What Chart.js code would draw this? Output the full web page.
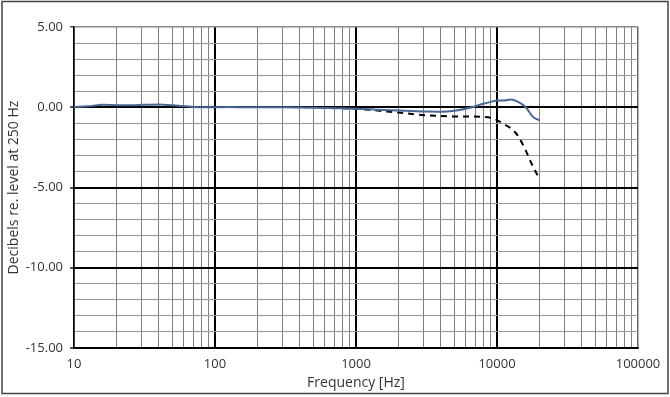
<!DOCTYPE html>
<html>
<head>
<meta charset="utf-8">
<script src="https://cdn.jsdelivr.net/npm/chart.js@4/dist/chart.umd.min.js"></script>
<style>
  html, body { margin: 0; padding: 0; background: #fff; }
  #wrap { width: 670px; height: 397px; position: relative; }
</style>
</head>
<body>
<div id="wrap"><canvas id="c" width="670" height="397"></canvas></div>
<script>
// ---- Data ----
const solidFreq = [10, 12.5, 16, 20, 25, 31.5, 40, 50, 63, 80, 100, 125, 160, 200, 250, 315, 400, 500, 630, 800, 1000, 1250, 1600, 2000, 2500, 3150, 4000, 5000, 6300, 8000, 9000, 10000, 11200, 12500, 14000, 16000, 18000, 20000];
const solidDb   = [0.02, 0.06, 0.15, 0.13, 0.12, 0.15, 0.17, 0.12, 0.06, 0.0, 0.0, 0.01, 0.0, 0.0, 0.0, 0.0, -0.02, -0.03, -0.05, -0.07, -0.1, -0.13, -0.17, -0.2, -0.24, -0.27, -0.28, -0.22, -0.05, 0.22, 0.33, 0.42, 0.42, 0.48, 0.35, 0.0, -0.6, -0.82];

const dashFreq = [800, 1000, 1250, 1600, 2000, 2500, 3150, 4000, 5000, 6300, 8000, 9000, 10000, 11200, 12500, 14000, 16000, 18000, 20000];
const dashDb   = [-0.07, -0.1, -0.16, -0.25, -0.33, -0.42, -0.5, -0.55, -0.57, -0.57, -0.6, -0.65, -0.8, -1.05, -1.3, -1.75, -2.7, -3.7, -4.45];

const xTickLabels = ['10', '100', '1000', '10000', '100000'];
const yTickLabels = ['5.00', '0.00', '-5.00', '-10.00', '-15.00'];
const decades = [10, 100, 1000, 10000];

const xTitle = 'Frequency [Hz]';
const yTitle = 'Decibels re. level at 250 Hz';

// gridline positions on log axis (1..9 x each decade)
const xGridValues = [];
decades.forEach(d => { for (let m = 1; m <= 9; m++) xGridValues.push(d * m); });
xGridValues.push(100000);

const toPts = (xs, ys) => xs.map((x, i) => ({ x: x, y: ys[i] }));

const frame = {
  id: 'frame',
  beforeDraw(chart) {
    const ctx = chart.ctx;
    ctx.save();
    ctx.fillStyle = '#fff';
    ctx.fillRect(0, 0, chart.width, chart.height);
    ctx.restore();
  },
  afterDraw(chart) {
    const ctx = chart.ctx;
    ctx.save();
    ctx.strokeStyle = '#444';
    ctx.lineWidth = 1.5;
    ctx.strokeRect(2, 1.5, 666, 392);
    ctx.restore();
  }
};

const fontFam = '"Open Sans", "DejaVu Sans", sans-serif';

new Chart(document.getElementById('c'), {
  type: 'line',
  data: {
    datasets: [
      {
        label: 'dashed',
        data: toPts(dashFreq, dashDb),
        borderColor: '#000',
        borderWidth: 2,
        borderDash: [6, 5],
        pointRadius: 0,
        fill: false,
        cubicInterpolationMode: 'monotone',
        order: 2
      },
      {
        label: 'solid',
        data: toPts(solidFreq, solidDb),
        borderColor: '#4a6794',
        borderWidth: 2,
        pointRadius: 0,
        fill: false,
        cubicInterpolationMode: 'monotone',
        order: 1
      }
    ]
  },
  options: {
    responsive: false,
    animation: false,
    devicePixelRatio: 1,
    layout: { padding: { left: 0, right: 32, top: 27, bottom: 4 } },
    plugins: { legend: { display: false }, tooltip: { enabled: false } },
    scales: {
      x: {
        type: 'logarithmic',
        min: 10,
        max: 100000,
        afterFit(scale) { scale.height = 45; },
        afterBuildTicks(scale) { scale.ticks = xGridValues.map(v => ({ value: v })); },
        ticks: {
          autoSkip: false,
          maxRotation: 0,
          padding: 8,
          color: '#333',
          font: { family: fontFam, size: 13 },
          callback(v) {
            const i = [10, 100, 1000, 10000, 100000].indexOf(v);
            return i >= 0 ? xTickLabels[i] : '';
          }
        },
        grid: {
          drawTicks: false,
          color(ctx) {
            const v = ctx.tick && ctx.tick.value;
            if (v === 100 || v === 1000 || v === 10000) return '#000';
            if (v === 100000) return '#666';
            return '#808080';
          },
          lineWidth(ctx) {
            const v = ctx.tick && ctx.tick.value;
            if (v === 100 || v === 1000 || v === 10000) return 2;
            if (v === 100000) return 1.5;
            return 1;
          }
        },
        border: { display: true, color: '#000', width: 1.5 },
        title: {
          display: true,
          text: xTitle,
          color: '#333',
          font: { family: fontFam, size: 14 },
          padding: { top: 3, bottom: 2 }
        }
      },
      y: {
        type: 'linear',
        min: -15,
        max: 5,
        afterFit(scale) { scale.width = 74; },
        ticks: {
          stepSize: 1,
          autoSkip: false,
          padding: 7,
          color: '#333',
          font: { family: fontFam, size: 13 },
          callback(v) {
            const i = [5, 0, -5, -10, -15].indexOf(v);
            return i >= 0 ? yTickLabels[i] : '';
          }
        },
        grid: {
          tickLength: 4,
          tickColor(ctx) {
            const v = ctx.tick && ctx.tick.value;
            return (v % 5 === 0) ? '#555' : 'rgba(0,0,0,0)';
          },
          color(ctx) {
            const v = ctx.tick && ctx.tick.value;
            if (v === 5) return '#888';
            if (v % 5 === 0) return '#000';
            return '#999';
          },
          lineWidth(ctx) {
            const v = ctx.tick && ctx.tick.value;
            if (v === 5) return 1.5;
            if (v % 5 === 0) return 2;
            return 1;
          }
        },
        border: { display: true, color: '#000', width: 1.5 },
        title: {
          display: true,
          text: yTitle,
          color: '#333',
          font: { family: fontFam, size: 14 },
          padding: { top: 6, bottom: 0 }
        }
      }
    }
  },
  plugins: [frame]
});
</script>
</body>
</html>
